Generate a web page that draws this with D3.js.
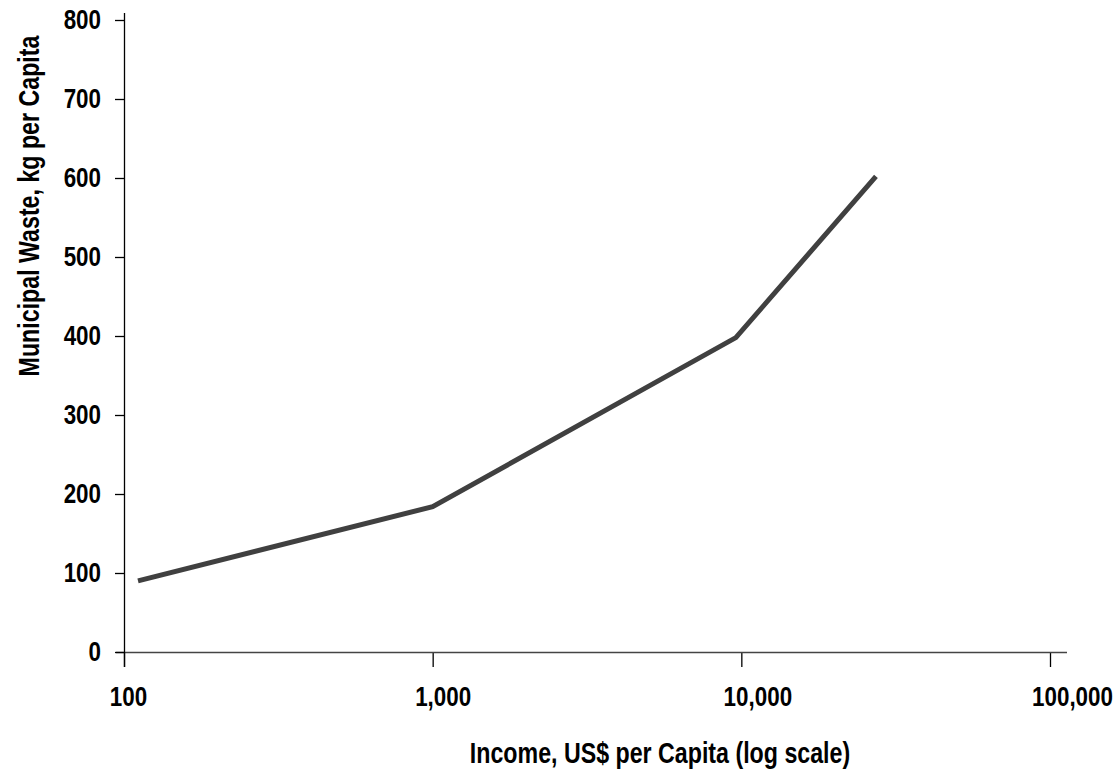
<!DOCTYPE html>
<html lang="en">
    <head>
        <meta charset="utf-8">
        <title>Municipal Waste vs Income</title>
        <script src="https://d3js.org/d3.v7.min.js"></script>
        <style type="text/css">
          body
          {
              margin: 0;
              background: #ffffff;
          }
          text
          {
              font-family: "Liberation Sans Narrow", "Arial Narrow", "Liberation Sans", Arial, sans-serif;
              font-weight: bold;
              fill: #000000;
          }
        </style>
    </head>
    <body>
        <script type="text/javascript">
            // income per capita (US$) and municipal waste (kg per capita)
            var income = [111, 1000, 9600, 27300];
            var waste = [90, 184, 398, 602];

            // axis ticks
            var xTicks = [100, 1000, 10000, 100000];
            var xTickLabels = ["100", "1,000", "10,000", "100,000"];
            var yTicks = [0, 100, 200, 300, 400, 500, 600, 700, 800];

            var w = 1120;
            var h = 771;

            // squeeze text to look like a narrow font
            function narrow(sel, k)
            {
              sel.each(function()
              {
                var len = this.getComputedTextLength();
                d3.select(this)
                  .attr("textLength", len * k)
                  .attr("lengthAdjust", "spacingAndGlyphs");
              });
            }

            var svg = d3.select("body")
                        .append("svg")
                        .attr("width", w)
                        .attr("height", h);

            var xScale = d3.scaleLog().domain([100, 100000]).range([124, 1050]);
            var yScale = d3.scaleLinear().domain([0, 800]).range([652, 20]);

            // x axis
            var xAxis = d3.axisBottom(xScale)
                          .tickValues(xTicks)
                          .tickFormat(function(d, i) { return xTickLabels[i]; })
                          .tickSize(15)
                          .tickSizeOuter(0)
                          .tickPadding(19);

            var gx = svg.append("g")
                        .attr("transform", "translate(0, 652)")
                        .call(xAxis);

            gx.select(".domain").remove();
            gx.selectAll(".tick line").attr("stroke", "#000").attr("stroke-width", 1.3);
            gx.selectAll(".tick text")
              .attr("dx", function(d, i) { return 4 + 6 * i; })
              .style("font-size", "28px")
              .call(narrow, 0.8);

            // long horizontal base line
            svg.append("line")
               .attr("x1", 116)
               .attr("x2", 1067)
               .attr("y1", 652.5)
               .attr("y2", 652.5)
               .attr("stroke", "#444")
               .attr("stroke-width", 1.3);

            // y axis
            var yAxis = d3.axisLeft(yScale)
                          .tickValues(yTicks)
                          .tickSize(9)
                          .tickSizeOuter(0)
                          .tickPadding(14);

            var gy = svg.append("g")
                        .attr("transform", "translate(124, 0)")
                        .call(yAxis);

            gy.select(".domain").remove();
            gy.selectAll(".tick line").attr("stroke", "#000").attr("stroke-width", 1.3);
            gy.selectAll(".tick text")
              .style("font-size", "28px")
              .call(narrow, 0.8);

            svg.append("line")
               .attr("x1", 124.5)
               .attr("x2", 124.5)
               .attr("y1", 13)
               .attr("y2", 667)
               .attr("stroke", "#000")
               .attr("stroke-width", 1.3);

            // the line
            var line = d3.line()
                         .x(function(d) { return xScale(d[0]); })
                         .y(function(d) { return yScale(d[1]); });

            svg.append("path")
               .datum(d3.zip(income, waste))
               .attr("d", line)
               .attr("fill", "none")
               .attr("stroke", "#404040")
               .attr("stroke-width", 5);

            // axis titles
            svg.append("text")
               .attr("x", 660)
               .attr("y", 763)
               .attr("text-anchor", "middle")
               .style("font-size", "29px")
               .text("Income, US$ per Capita (log scale)")
               .call(narrow, 0.8);

            svg.append("text")
               .attr("transform", "translate(39, 206) rotate(-90)")
               .attr("text-anchor", "middle")
               .style("font-size", "29px")
               .text("Municipal Waste, kg per Capita")
               .call(narrow, 0.8);
        </script>
    </body>
</html>
